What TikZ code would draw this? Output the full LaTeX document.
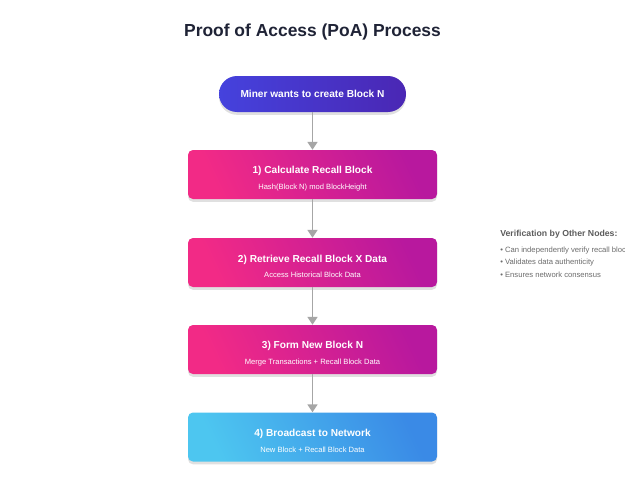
\documentclass[tikz,border=0pt]{standalone}
\usepackage{fontspec}
\setmainfont{Liberation Sans}
\usepackage{tikz}
\usetikzlibrary{arrows.meta,shadows}
\definecolor{ink}{HTML}{1F2336}
\definecolor{minerA}{HTML}{4542DD}
\definecolor{minerB}{HTML}{4A27B4}
\definecolor{pinkA}{HTML}{F22A86}
\definecolor{pinkB}{HTML}{B8189E}
\definecolor{skyA}{HTML}{4DC6F0}
\definecolor{skyB}{HTML}{3A8AE6}
\definecolor{arrowgray}{HTML}{A6A6A6}
\definecolor{notegray}{HTML}{5C5C5C}
\tikzset{
  soft/.style={drop shadow={shadow xshift=0pt,shadow yshift=-2pt,opacity=0.12,fill=black}},
  pill/.style={soft,rounded corners=0.45cm,minimum width=4.675cm,minimum height=0.9cm,text=white,
    left color=minerA,right color=minerB,font=\fontsize{7.2pt}{9pt}\selectfont\bfseries},
  stepbox/.style={soft,rounded corners=3.5pt,minimum width=6.225cm,minimum height=1.225cm,text=white,
    align=center,font=\fontsize{5.4pt}{6.5pt}\selectfont,left color=#1A,right color=#1B,shading angle=115},
  flow/.style={-{Triangle[width=7pt,length=5.5pt]},arrowgray,line width=1pt},
}
\newcommand{\steptext}[2]{\rule{0pt}{11pt}{\fontsize{7.2pt}{9pt}\selectfont\bfseries #1}\\[4.5pt]#2}

\begin{document}
\begin{tikzpicture}
\path[use as bounding box,fill=white] (0,0) rectangle (15.625,-12.5);
\node[text=ink,font=\fontsize{12.4pt}{15pt}\selectfont\bfseries] (title) at (7.8125,-0.8) {Proof of Access (PoA) Process};
\node[pill] (s0) at (7.8125,-2.35) {Miner wants to create Block N};
\node[stepbox=pink] (s1) at (7.8125,-4.3625) {\steptext{1) Calculate Recall Block}{Hash(Block N) mod BlockHeight}};
\node[stepbox=pink] (s2) at (7.8125,-6.5625) {\steptext{2) Retrieve Recall Block X Data}{Access Historical Block Data}};
\node[stepbox=pink] (s3) at (7.8125,-8.7375) {\steptext{3) Form New Block N}{Merge Transactions + Recall Block Data}};
\node[stepbox=sky] (s4) at (7.8125,-10.925) {\steptext{4) Broadcast to Network}{New Block + Recall Block Data}};
\draw[flow] (s0) -- (s1); \draw[flow] (s1) -- (s2); \draw[flow] (s2) -- (s3); \draw[flow] (s3) -- (s4);
\node[anchor=west,inner sep=0pt,text=notegray,font=\fontsize{6.2pt}{7.5pt}\selectfont\bfseries] (vhead) at (12.5,-5.85) {Verification by Other Nodes:};
\node[anchor=west,inner sep=0pt,text=notegray!90,font=\fontsize{5.45pt}{7pt}\selectfont] (v1) at (12.5,-6.275) {• Can independently verify recall block};
\node[anchor=west,inner sep=0pt,text=notegray!90,font=\fontsize{5.45pt}{7pt}\selectfont] (v2) at (12.5,-6.575) {• Validates data authenticity};
\node[anchor=west,inner sep=0pt,text=notegray!90,font=\fontsize{5.45pt}{7pt}\selectfont] (v3) at (12.5,-6.875) {• Ensures network consensus};
\end{tikzpicture}
\end{document}
